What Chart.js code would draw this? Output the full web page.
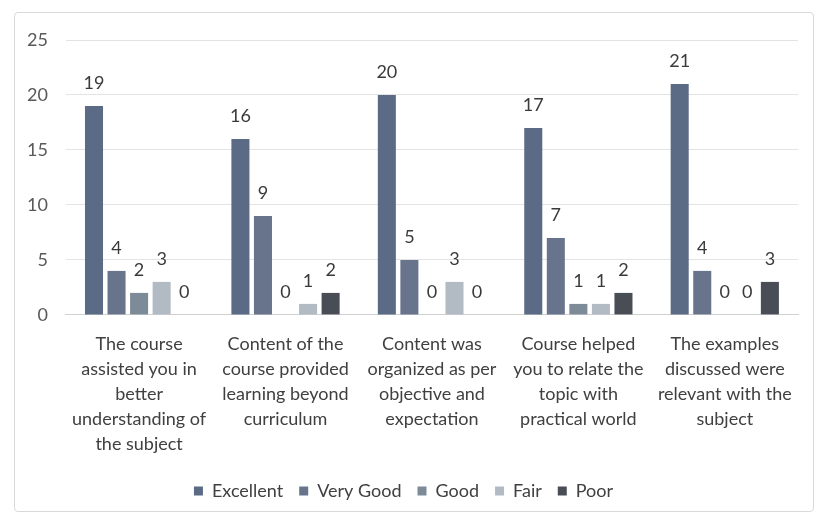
<!DOCTYPE html>
<html>
<head>
<meta charset="utf-8">
<script src="https://cdn.jsdelivr.net/npm/chart.js@4.4.1/dist/chart.umd.min.js"></script>
<style>
  html, body { margin: 0; padding: 0; background: #ffffff; }
  #wrap {
    position: absolute; left: 14px; top: 12px; width: 800px; height: 500px;
    border: 1px solid #d9d9d9; border-radius: 4px; box-sizing: border-box;
  }
  #chart { position: absolute; left: 0; top: 0; }
</style>
</head>
<body>
<div id="wrap"></div>
<canvas id="chart" width="821" height="523"></canvas>
<script>
// Feedback survey results per question
const categories = [
    ['The course', 'assisted you in', 'better', 'understanding of', 'the subject'],
    ['Content of the', 'course provided', 'learning beyond', 'curriculum'],
    ['Content was', 'organized as per', 'objective and', 'expectation'],
    ['Course helped', 'you to relate the', 'topic with', 'practical world'],
    ['The examples', 'discussed were', 'relevant with the', 'subject']
];
const seriesNames = ['Excellent', 'Very Good', 'Good', 'Fair', 'Poor'];
const excellent = [19, 16, 20, 17, 21];
const veryGood = [4, 9, 5, 7, 4];
const good = [2, 0, 0, 1, 0];
const fair = [3, 1, 3, 1, 0];
const poor = [0, 2, 0, 2, 3];
const yTicks = [0, 5, 10, 15, 20, 25];

const colors = ['#5b6a85', '#68748c', '#7d8a98', '#b2bac4', '#484d56'];
const fontFamily = "Lato, 'Liberation Sans', sans-serif";

// Value labels drawn above each bar
const valueLabels = {
    id: 'valueLabels',
    afterDatasetsDraw(chart) {
        const ctx = chart.ctx;
        ctx.save();
        ctx.font = '18px ' + fontFamily;
        ctx.fillStyle = '#3a3a3a';
        ctx.textAlign = 'center';
        ctx.textBaseline = 'middle';
        chart.data.datasets.forEach((ds, i) => {
            chart.getDatasetMeta(i).data.forEach((bar, j) => {
                ctx.fillText(String(ds.data[j]), bar.x, bar.y - 23);
            });
        });
        ctx.restore();
    }
};

const seriesData = [excellent, veryGood, good, fair, poor];
const ctx = document.getElementById('chart').getContext('2d');
const surveyChart = new Chart(ctx, {
    type: 'bar',
    data: {
        labels: categories,
        datasets: seriesNames.map((name, i) => ({
            label: name,
            data: seriesData[i],
            backgroundColor: colors[i],
            categoryPercentage: 0.77,
            barPercentage: 0.8
        }))
    },
    options: {
        responsive: false,
        animation: false,
        // the wide first category label reserves its own room on the left
        layout: { padding: { left: 9, right: 23, top: 40, bottom: 13 } },
        plugins: {
            legend: {
                position: 'bottom',
                labels: {
                    boxWidth: 9,
                    boxHeight: 9,
                    padding: 16,
                    color: '#404040',
                    font: { family: fontFamily, size: 18 }
                }
            },
            tooltip: { enabled: false }
        },
        scales: {
            x: {
                grid: { display: false },
                border: { color: '#d0d0d0' },
                ticks: {
                    color: '#404040',
                    maxRotation: 0,
                    autoSkip: false,
                    padding: 9,
                    font: { family: fontFamily, size: 18, lineHeight: 1.39 }
                }
            },
            y: {
                min: 0,
                max: 25,
                afterBuildTicks(axis) {
                    axis.ticks = yTicks.map(v => ({ value: v }));
                },
                grid: { color: '#e3e3e3', drawTicks: false },
                border: { display: false },
                ticks: {
                    color: '#595959',
                    padding: 18,
                    font: { family: fontFamily, size: 18 }
                }
            }
        }
    },
    plugins: [valueLabels]
});
</script>
</body>
</html>
